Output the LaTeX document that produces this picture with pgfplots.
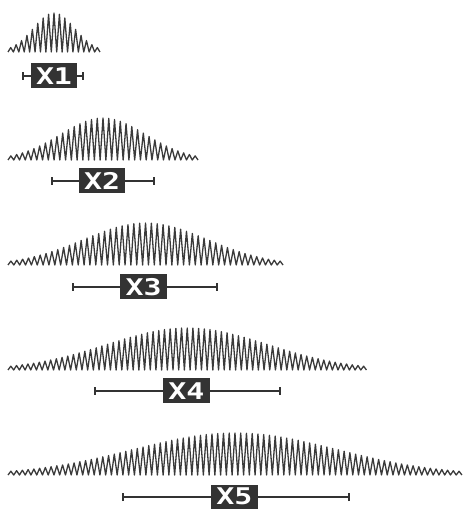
\documentclass[border=0pt]{standalone}
\usepackage{pgfplots}
\pgfplotsset{compat=1.18}
\usepackage{graphicx}
\usepackage{fontspec}
\newfontfamily\labfont{DejaVu Sans Mono}
\definecolor{zz}{HTML}{3A3A3A}
\definecolor{bx}{HTML}{333333}
\pgfplotsset{
  rowax/.style={hide axis, clip=false, y=1bp, ymin=-40, ymax=45,
    enlargelimits=false, anchor=south west},
  zig/.style={line width=1.3bp, color=zz, line join=round, mark=none},
  whisk/.style={line width=2bp, color=bx, mark=none},
  boxf/.style={fill=bx, draw=none, mark=none},
}
\newcommand{\lab}[1]{\scalebox{1.3}[1]{\labfont\bfseries\fontsize{23bp}{23bp}\selectfont #1}}
\begin{document}
\begin{tikzpicture}
\useasboundingbox (0,0) rectangle (463bp,509bp);
\clip (0,0) rectangle (463bp,509bp);

% X1
\begin{axis}[rowax, x=2.706bp, xmin=-17, xmax=17, at={(8bp,417bp)}]
\addplot[zig] coordinates {(-17,0) (-16,4.4) (-15,0) (-14,7.3) (-13,0) (-12,11.4) (-11,0) (-10,16.6) (-9,0) (-8,22.6) (-7,0) (-6,28.7) (-5,0) (-4,34.0) (-3,0) (-2,37.7) (-1,0) (0,39.0) (1,0) (2,37.7) (3,0) (4,34.0) (5,0) (6,28.7) (7,0) (8,22.6) (9,0) (10,16.6) (11,0) (12,11.4) (13,0) (14,7.3) (15,0) (16,4.4) (17,0)};
\addplot[whisk] coordinates {(-11.46,-24) (10.72,-24)};
\addplot[whisk] coordinates {(-11.46,-28) (-11.46,-20)};
\addplot[whisk] coordinates {(10.72,-28) (10.72,-20)};
\addplot[boxf] coordinates {(-8.5,-11.5) (8.5,-11.5) (8.5,-36.5) (-8.5,-36.5)} -- cycle;
\node[text=white] at (axis cs:0,-24) {\lab{X1}};
\end{axis}

% X2
\begin{axis}[rowax, x=2.879bp, xmin=-33, xmax=33, at={(8bp,309bp)}]
\addplot[zig] coordinates {(-33,0) (-32,4.1) (-31,0) (-30,5.5) (-29,0) (-28,7.1) (-27,0) (-26,9.1) (-25,0) (-24,11.4) (-23,0) (-22,14.0) (-21,0) (-20,17.0) (-19,0) (-18,20.1) (-17,0) (-16,23.5) (-15,0) (-14,26.9) (-13,0) (-12,30.3) (-11,0) (-10,33.5) (-9,0) (-8,36.3) (-7,0) (-6,38.7) (-5,0) (-4,40.5) (-3,0) (-2,41.6) (-1,0) (0,42.0) (1,0) (2,41.6) (3,0) (4,40.5) (5,0) (6,38.7) (7,0) (8,36.3) (9,0) (10,33.5) (11,0) (12,30.3) (13,0) (14,26.9) (15,0) (16,23.5) (17,0) (18,20.1) (19,0) (20,17.0) (21,0) (22,14.0) (23,0) (24,11.4) (25,0) (26,9.1) (27,0) (28,7.1) (29,0) (30,5.5) (31,0) (32,4.1) (33,0)};
\addplot[whisk] coordinates {(-17.71,-20.7) (17.71,-20.7)};
\addplot[whisk] coordinates {(-17.71,-24.7) (-17.71,-16.7)};
\addplot[whisk] coordinates {(17.71,-24.7) (17.71,-16.7)};
\addplot[boxf] coordinates {(-8.34,-8.2) (7.64,-8.2) (7.64,-33.2) (-8.34,-33.2)} -- cycle;
\node[text=white] at (axis cs:-0.35,-20.7) {\lab{X2}};
\end{axis}

% X3
\begin{axis}[rowax, x=2.926bp, xmin=-47, xmax=47, at={(8bp,204bp)}]
\addplot[zig] coordinates {(-47,0) (-46,3.9) (-45,0) (-44,4.8) (-43,0) (-42,5.8) (-41,0) (-40,7.0) (-39,0) (-38,8.4) (-37,0) (-36,9.9) (-35,0) (-34,11.5) (-33,0) (-32,13.4) (-31,0) (-30,15.4) (-29,0) (-28,17.5) (-27,0) (-26,19.7) (-25,0) (-24,22.1) (-23,0) (-22,24.5) (-21,0) (-20,26.9) (-19,0) (-18,29.2) (-17,0) (-16,31.5) (-15,0) (-14,33.7) (-13,0) (-12,35.8) (-11,0) (-10,37.6) (-9,0) (-8,39.1) (-7,0) (-6,40.3) (-5,0) (-4,41.3) (-3,0) (-2,41.8) (-1,0) (0,42.0) (1,0) (2,41.8) (3,0) (4,41.3) (5,0) (6,40.3) (7,0) (8,39.1) (9,0) (10,37.6) (11,0) (12,35.8) (13,0) (14,33.7) (15,0) (16,31.5) (17,0) (18,29.2) (19,0) (20,26.9) (21,0) (22,24.5) (23,0) (24,22.1) (25,0) (26,19.7) (27,0) (28,17.5) (29,0) (30,15.4) (31,0) (32,13.4) (33,0) (34,11.5) (35,0) (36,9.9) (37,0) (38,8.4) (39,0) (40,7.0) (41,0) (42,5.8) (43,0) (44,4.8) (45,0) (46,3.9) (47,0)};
\addplot[whisk] coordinates {(-24.68,-22) (24.54,-22)};
\addplot[whisk] coordinates {(-24.68,-26) (-24.68,-18)};
\addplot[whisk] coordinates {(24.54,-26) (24.54,-18)};
\addplot[boxf] coordinates {(-8.72,-9.5) (7.35,-9.5) (7.35,-34.5) (-8.72,-34.5)} -- cycle;
\node[text=white] at (axis cs:-0.68,-22) {\lab{X3}};
\end{axis}

% X4
\begin{axis}[rowax, x=2.845bp, xmin=-63, xmax=63, at={(8bp,99bp)}]
\addplot[zig] coordinates {(-63,0) (-62,3.8) (-61,0) (-60,4.5) (-59,0) (-58,5.2) (-57,0) (-56,6.0) (-55,0) (-54,6.8) (-53,0) (-52,7.8) (-51,0) (-50,8.9) (-49,0) (-48,10.0) (-47,0) (-46,11.3) (-45,0) (-44,12.6) (-43,0) (-42,14.0) (-41,0) (-40,15.5) (-39,0) (-38,17.1) (-37,0) (-36,18.8) (-35,0) (-34,20.5) (-33,0) (-32,22.2) (-31,0) (-30,24.0) (-29,0) (-28,25.8) (-27,0) (-26,27.6) (-25,0) (-24,29.3) (-23,0) (-22,31.1) (-21,0) (-20,32.7) (-19,0) (-18,34.3) (-17,0) (-16,35.8) (-15,0) (-14,37.2) (-13,0) (-12,38.4) (-11,0) (-10,39.5) (-9,0) (-8,40.4) (-7,0) (-6,41.1) (-5,0) (-4,41.6) (-3,0) (-2,41.9) (-1,0) (0,42.0) (1,0) (2,41.9) (3,0) (4,41.6) (5,0) (6,41.1) (7,0) (8,40.4) (9,0) (10,39.5) (11,0) (12,38.4) (13,0) (14,37.2) (15,0) (16,35.8) (17,0) (18,34.3) (19,0) (20,32.7) (21,0) (22,31.1) (23,0) (24,29.3) (25,0) (26,27.6) (27,0) (28,25.8) (29,0) (30,24.0) (31,0) (32,22.2) (33,0) (34,20.5) (35,0) (36,18.8) (37,0) (38,17.1) (39,0) (40,15.5) (41,0) (42,14.0) (43,0) (44,12.6) (45,0) (46,11.3) (47,0) (48,10.0) (49,0) (50,8.9) (51,0) (52,7.8) (53,0) (54,6.8) (55,0) (56,6.0) (57,0) (58,5.2) (59,0) (60,4.5) (61,0) (62,3.8) (63,0)};
\addplot[whisk] coordinates {(-32.43,-21) (32.60,-21)};
\addplot[whisk] coordinates {(-32.43,-25) (-32.43,-17)};
\addplot[whisk] coordinates {(32.60,-25) (32.60,-17)};
\addplot[boxf] coordinates {(-8.63,-8.5) (8.0,-8.5) (8.0,-33.5) (-8.63,-33.5)} -- cycle;
\node[text=white] at (axis cs:-0.3,-21) {\lab{X4}};
\end{axis}

% X5
\begin{axis}[rowax, x=2.873bp, xmin=-79, xmax=79, at={(8bp,-6bp)}]
\addplot[zig] coordinates {(-79,0) (-78,3.8) (-77,0) (-76,4.3) (-75,0) (-74,4.8) (-73,0) (-72,5.4) (-71,0) (-70,6.0) (-69,0) (-68,6.7) (-67,0) (-66,7.5) (-65,0) (-64,8.3) (-63,0) (-62,9.2) (-61,0) (-60,10.1) (-59,0) (-58,11.1) (-57,0) (-56,12.1) (-55,0) (-54,13.3) (-53,0) (-52,14.4) (-51,0) (-50,15.6) (-49,0) (-48,16.9) (-47,0) (-46,18.2) (-45,0) (-44,19.5) (-43,0) (-42,20.9) (-41,0) (-40,22.3) (-39,0) (-38,23.7) (-37,0) (-36,25.2) (-35,0) (-34,26.6) (-33,0) (-32,28.0) (-31,0) (-30,29.4) (-29,0) (-28,30.8) (-27,0) (-26,32.1) (-25,0) (-24,33.4) (-23,0) (-22,34.7) (-21,0) (-20,35.9) (-19,0) (-18,36.9) (-17,0) (-16,38.0) (-15,0) (-14,38.9) (-13,0) (-12,39.7) (-11,0) (-10,40.4) (-9,0) (-8,41.0) (-7,0) (-6,41.4) (-5,0) (-4,41.7) (-3,0) (-2,41.9) (-1,0) (0,42.0) (1,0) (2,41.9) (3,0) (4,41.7) (5,0) (6,41.4) (7,0) (8,41.0) (9,0) (10,40.4) (11,0) (12,39.7) (13,0) (14,38.9) (15,0) (16,38.0) (17,0) (18,36.9) (19,0) (20,35.9) (21,0) (22,34.7) (23,0) (24,33.4) (25,0) (26,32.1) (27,0) (28,30.8) (29,0) (30,29.4) (31,0) (32,28.0) (33,0) (34,26.6) (35,0) (36,25.2) (37,0) (38,23.7) (39,0) (40,22.3) (41,0) (42,20.9) (43,0) (44,19.5) (45,0) (46,18.2) (47,0) (48,16.9) (49,0) (50,15.6) (51,0) (52,14.4) (53,0) (54,13.3) (55,0) (56,12.1) (57,0) (58,11.1) (59,0) (60,10.1) (61,0) (62,9.2) (63,0) (64,8.3) (65,0) (66,7.5) (67,0) (68,6.7) (69,0) (70,6.0) (71,0) (72,5.4) (73,0) (74,4.8) (75,0) (76,4.3) (77,0) (78,3.8) (79,0)};
\addplot[whisk] coordinates {(-38.98,-22) (39.68,-22)};
\addplot[whisk] coordinates {(-38.98,-26) (-38.98,-18)};
\addplot[whisk] coordinates {(39.68,-26) (39.68,-18)};
\addplot[boxf] coordinates {(-8.35,-9.5) (8.01,-9.5) (8.01,-34.5) (-8.35,-34.5)} -- cycle;
\node[text=white] at (axis cs:-0.17,-21) {\lab{X5}};
\end{axis}
\end{tikzpicture}
\end{document}
